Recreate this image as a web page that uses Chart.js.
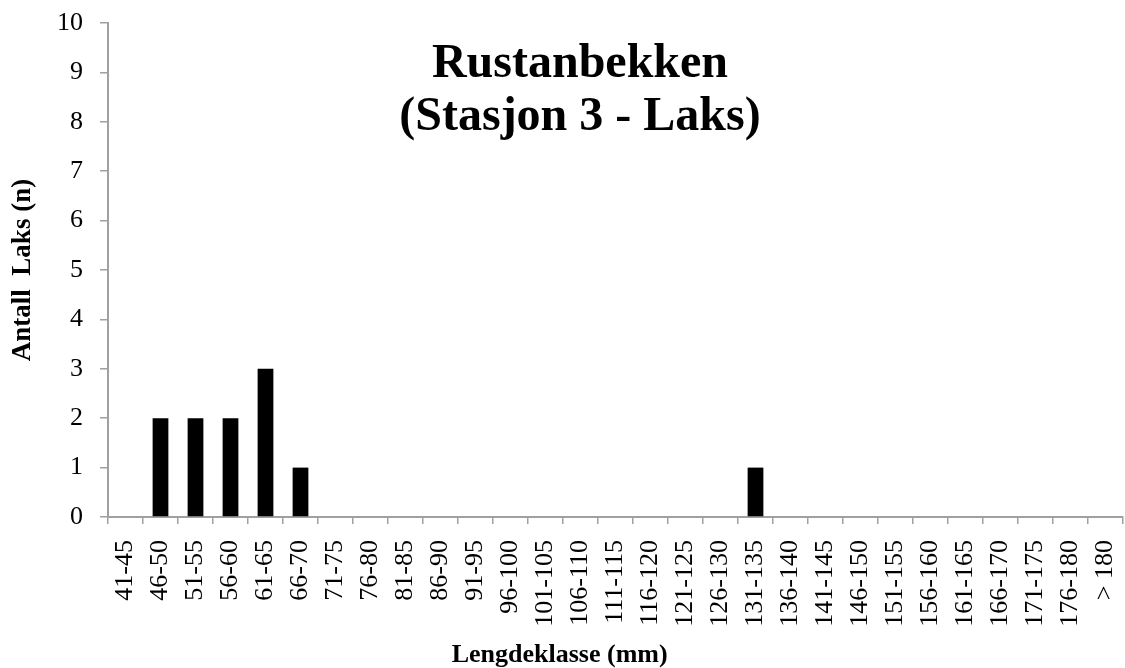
<!DOCTYPE html>
<html>
<head>
<meta charset="utf-8">
<script src="https://cdn.jsdelivr.net/npm/chart.js@4"></script>
<style>
  html, body { margin: 0; padding: 0; background: #fff; }
  #wrap { width: 1125px; height: 668px; position: relative; }
</style>
</head>
<body>
<div id="wrap"><canvas id="lengde-chart"></canvas></div>
<script>
// Lengdeklasser (mm) og antall laks
const klasser = ['41-45', '46-50', '51-55', '56-60', '61-65', '66-70', '71-75', '76-80',
  '81-85', '86-90', '91-95', '96-100', '101-105', '106-110', '111-115', '116-120',
  '121-125', '126-130', '131-135', '136-140', '141-145', '146-150', '151-155',
  '156-160', '161-165', '166-170', '171-175', '176-180', '> 180'];
const antall = [0, 2, 2, 2, 3, 1, 0, 0, 0, 0, 0, 0, 0, 0, 0, 0, 0, 0, 1, 0, 0, 0, 0, 0, 0, 0, 0, 0, 0];
const yTicks = [0, 1, 2, 3, 4, 5, 6, 7, 8, 9, 10];
const tittel = ['Rustanbekken', '(Stasjon 3 - Laks)'];
const xTittel = 'Lengdeklasse (mm)';
const yTittel = 'Antall  Laks (n)';

const serif = "'Liberation Serif', 'Times New Roman', serif";
const axisGrey = '#a0a0a0';

// Tittel inne i plottet + x-aksetittel
const tekstPlugin = {
    id: 'tekst',
    afterDraw(chart) {
        const ctx = chart.ctx;
        const a = chart.chartArea;
        ctx.save();
        ctx.fillStyle = '#000';
        ctx.textAlign = 'center';
        ctx.textBaseline = 'alphabetic';
        ctx.font = 'bold 48px ' + serif;
        const cx = a.left + (a.right - a.left) * 0.465;
        ctx.fillText(tittel[0], cx, a.top + 54);
        ctx.fillText(tittel[1], cx, a.top + 107);
        ctx.font = 'bold 26px ' + serif;
        ctx.textBaseline = 'middle';
        ctx.fillText(xTittel, a.left + (a.right - a.left) * 0.445, chart.height - 13);
        ctx.restore();
    }
};

new Chart(document.getElementById('lengde-chart'), {
    type: 'bar',
    data: {
        labels: klasser,
        datasets: [{
            label: 'Antall laks',
            data: antall,
            backgroundColor: '#000',
            borderWidth: 0,
            categoryPercentage: 1,
            barPercentage: 0.45
        }]
    },
    options: {
        responsive: true,
        maintainAspectRatio: false,
        animation: false,
        layout: { padding: { top: 23, right: 2, left: 0, bottom: 0 } },
        plugins: {
            legend: { display: false },
            tooltip: { enabled: false }
        },
        scales: {
            x: {
                offset: true,
                afterFit(scale) {
                    scale.height = 151;
                    scale.paddingLeft = 0;
                    scale.paddingRight = 0;
                },
                grid: {
                    offset: true,
                    drawOnChartArea: false,
                    drawTicks: true,
                    tickLength: 7,
                    color: axisGrey,
                    lineWidth: 1.5
                },
                border: { display: true, color: axisGrey, width: 2 },
                ticks: {
                    autoSkip: false,
                    minRotation: 90,
                    maxRotation: 90,
                    padding: 16,
                    color: '#000',
                    font: { family: serif, size: 26 }
                }
            },
            y: {
                min: 0,
                max: 10,
                afterFit(scale) {
                    scale.width = 108;
                    scale.paddingTop = 0;
                    scale.paddingBottom = 0;
                },
                afterBuildTicks(scale) { scale.ticks = yTicks.map(v => ({ value: v })); },
                grid: {
                    drawOnChartArea: false,
                    drawTicks: true,
                    tickLength: 8,
                    color: axisGrey,
                    lineWidth: 1.5
                },
                border: { display: true, color: axisGrey, width: 2 },
                ticks: {
                    padding: 17,
                    color: '#000',
                    font: { family: serif, size: 26 }
                },
                title: {
                    display: true,
                    text: yTittel,
                    color: '#000',
                    padding: { top: 7 },
                    font: { family: serif, size: 27, weight: 'bold' }
                }
            }
        }
    },
    plugins: [tekstPlugin]
});
</script>
</body>
</html>
